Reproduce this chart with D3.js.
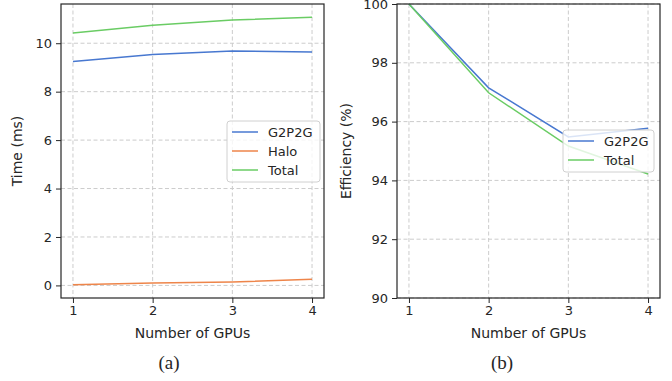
<!DOCTYPE html>
<html>
<head>
<meta charset="utf-8">
<script src="https://cdn.jsdelivr.net/npm/d3@7"></script>
<style>
  body { margin: 0; background: #fff; }
  svg { display: block; }
  text { font-family: "DejaVu Sans", sans-serif; fill: #262626; }
</style>
</head>
<body>
<div id="chart"></div>
<script>
const gpus = [1, 2, 3, 4];
const timeG2P2G = [9.25, 9.53, 9.68, 9.64];
const timeHalo = [0.03, 0.10, 0.14, 0.25];
const timeTotal = [10.42, 10.74, 10.96, 11.07];
const effG2P2G = [100, 97.15, 95.48, 95.77];
const effTotal = [100, 96.98, 95.17, 94.22];
const timeTicks = [0, 2, 4, 6, 8, 10];
const effTicks = [90, 92, 94, 96, 98, 100];

const colors = { G2P2G: '#4878d0', Halo: '#ee854a', Total: '#6acc64' };

const svg = d3.select('#chart').append('svg')
  .attr('width', 672)
  .attr('height', 381);

function drawPanel(opts) {
  const { left, right, top, bottom, yDomain, yTicks, yLabel, series, legend, caption } = opts;
  const g = svg.append('g');

  const x = d3.scaleLinear().domain([0.85, 4.15]).range([left, right]);
  const y = d3.scaleLinear().domain(yDomain).range([bottom, top]);

  // grid
  g.selectAll('.vgrid').data(gpus).enter().append('line')
    .attr('x1', d => x(d)).attr('x2', d => x(d))
    .attr('y1', top).attr('y2', bottom)
    .attr('stroke', '#cccccc').attr('stroke-width', 1)
    .attr('stroke-dasharray', '4,2.5');
  g.selectAll('.hgrid').data(yTicks).enter().append('line')
    .attr('x1', left).attr('x2', right)
    .attr('y1', d => y(d)).attr('y2', d => y(d))
    .attr('stroke', '#cccccc').attr('stroke-width', 1)
    .attr('stroke-dasharray', '4,2.5');

  // lines
  const line = d3.line().x((d, i) => x(gpus[i])).y(d => y(d));
  series.forEach(s => {
    g.append('path')
      .datum(s.values)
      .attr('fill', 'none')
      .attr('stroke', colors[s.name])
      .attr('stroke-width', 1.5)
      .attr('d', line);
  });

  // axes
  const xAxis = g.append('g')
    .attr('transform', `translate(0,${bottom})`)
    .call(d3.axisBottom(x).tickValues(gpus).tickFormat(d3.format('d')).tickSize(5).tickPadding(3));
  const yAxis = g.append('g')
    .attr('transform', `translate(${left},0)`)
    .call(d3.axisLeft(y).tickValues(yTicks).tickSize(5).tickPadding(4));
  [xAxis, yAxis].forEach(a => {
    a.select('.domain').remove();
    a.selectAll('.tick line').attr('stroke', '#262626').attr('stroke-width', 1);
    a.selectAll('text').style('font-size', '13px').attr('fill', '#262626')
      .style('font-family', '"DejaVu Sans", sans-serif');
  });

  // frame
  g.append('rect')
    .attr('x', left).attr('y', top)
    .attr('width', right - left).attr('height', bottom - top)
    .attr('fill', 'none').attr('stroke', '#262626').attr('stroke-width', 1.2);

  g.append('text')
    .attr('x', (left + right) / 2).attr('y', 338)
    .attr('text-anchor', 'middle')
    .style('font-size', '14px')
    .text('Number of GPUs');

  g.append('text')
    .attr('transform', `translate(${opts.yLabelX},${(top + bottom) / 2}) rotate(-90)`)
    .attr('text-anchor', 'middle')
    .style('font-size', '14px')
    .text(yLabel);

  g.append('text')
    .attr('x', opts.captionX).attr('y', 369)
    .attr('text-anchor', 'middle')
    .style('font-family', '"Liberation Serif", "DejaVu Serif", serif')
    .style('font-size', '19px')
    .text(caption);

  // legend
  const lg = g.append('g').attr('transform', `translate(${legend.x},${legend.y})`);
  lg.append('rect')
    .attr('width', legend.w).attr('height', legend.h)
    .attr('rx', 3)
    .attr('fill', 'white').attr('fill-opacity', 0.8)
    .attr('stroke', '#d0d0d0').attr('stroke-width', 1);
  series.forEach((s, i) => {
    const yy = 11 + i * 19;
    lg.append('line')
      .attr('x1', 5).attr('x2', 31).attr('y1', yy).attr('y2', yy)
      .attr('stroke', colors[s.name]).attr('stroke-width', 1.5);
    lg.append('text')
      .attr('x', 41).attr('y', yy).attr('dy', '0.35em')
      .style('font-size', '13px')
      .text(s.name);
  });
}

drawPanel({
  left: 61, right: 324, top: 4, bottom: 298,
  yDomain: [-0.52, 11.62], yTicks: timeTicks, yLabel: 'Time (ms)', yLabelX: 22,
  series: [
    { name: 'G2P2G', values: timeG2P2G },
    { name: 'Halo', values: timeHalo },
    { name: 'Total', values: timeTotal }
  ],
  legend: { x: 227, y: 121, w: 93, h: 61 },
  caption: '(a)', captionX: 169
});

drawPanel({
  left: 397, right: 660, top: 4, bottom: 298,
  yDomain: [90, 100], yTicks: effTicks, yLabel: 'Efficiency (%)', yLabelX: 351,
  series: [
    { name: 'G2P2G', values: effG2P2G },
    { name: 'Total', values: effTotal }
  ],
  legend: { x: 563, y: 130, w: 91, h: 42 },
  caption: '(b)', captionX: 502
});
</script>
</body>
</html>
